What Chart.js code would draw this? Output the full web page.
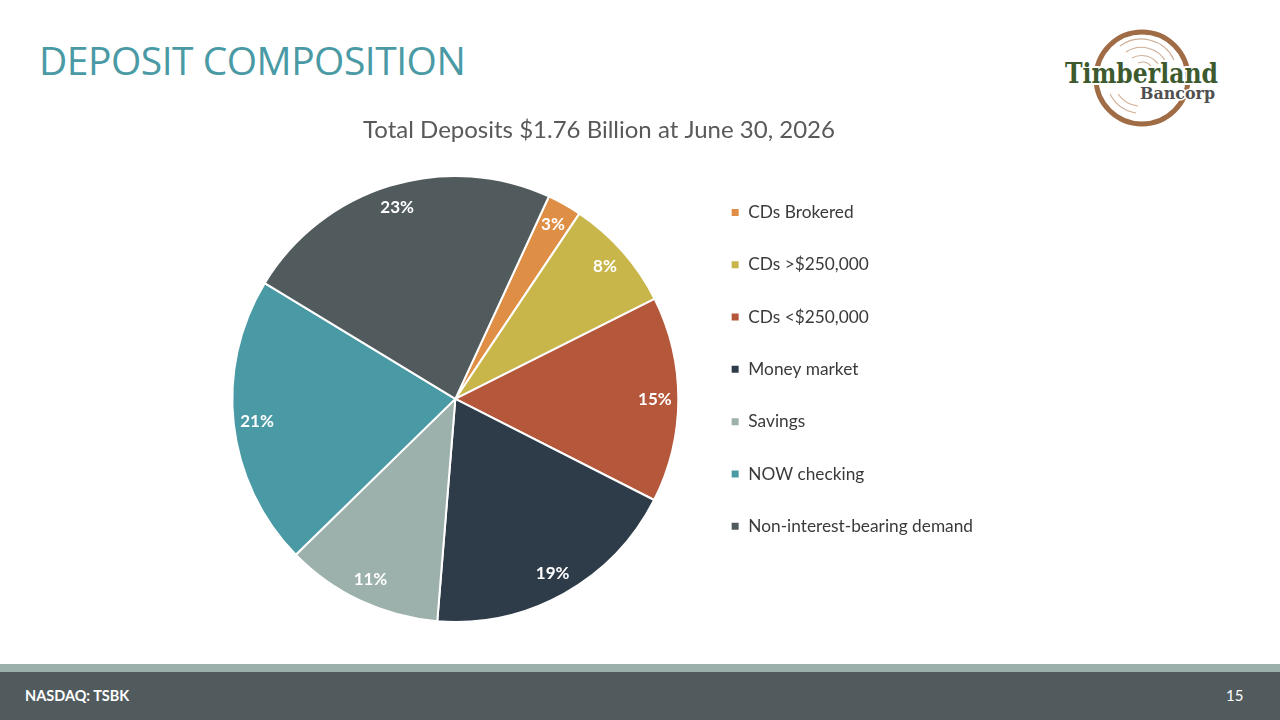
<!DOCTYPE html>
<html>
<head>
<meta charset="utf-8">
<script src="https://cdn.jsdelivr.net/npm/chart.js@4.4.1/dist/chart.umd.min.js"></script>
<style>
  html, body { margin: 0; padding: 0; background: #fff; }
  body { width: 1280px; height: 720px; position: relative; overflow: hidden; font-family: Lato, "Open Sans", sans-serif; }
  #heading { position: absolute; left: 39px; top: 33px; font-size: 39px; color: #4A9AA5; font-family: "Open Sans", Lato, sans-serif; letter-spacing: -0.5px; white-space: nowrap; }
  #chartBox { position: absolute; left: 215px; top: 110px; }
  #band1 { position: absolute; left: 0; top: 664px; width: 1280px; height: 8px; background: #9BB0AA; }
  #band2 { position: absolute; left: 0; top: 672px; width: 1280px; height: 48px; background: #515B5E; }
  #ticker { position: absolute; left: 25px; top: 687px; color: #fff; font-weight: bold; font-size: 14.5px; font-family: Lato, sans-serif; }
  #pageNo { position: absolute; left: 1226px; top: 686px; color: #fff; font-size: 15px; font-family: Lato, sans-serif; }
  #logo { position: absolute; left: 1040px; top: 20px; }
</style>
</head>
<body>
<div id="heading">DEPOSIT COMPOSITION</div>
<svg id="logo" width="200" height="115" viewBox="0 0 200 115">
  <circle cx="102" cy="58" r="46" fill="none" stroke="#A06C46" stroke-width="5"/>
  <g fill="none" stroke="#B98C6A" stroke-width="1.1" opacity="0.7">
    <path d="M 80 26 A 36 36 0 0 1 134 40"/>
    <path d="M 86 32 A 28 28 0 0 1 126 42"/>
    <path d="M 92 38 A 20 20 0 0 1 118 44"/>
    <path d="M 98 43 A 12 12 0 0 1 111 46"/>
    <path d="M 70 74 A 36 36 0 0 0 96 93"/>
    <path d="M 78 74 A 28 28 0 0 0 98 86"/>
  </g>
  <text x="25" y="63" font-family="DejaVu Serif, serif" font-weight="bold" font-size="28" fill="#3D5A2E" stroke="#fff" stroke-width="4" paint-order="stroke" stroke-linejoin="round" textLength="153" lengthAdjust="spacingAndGlyphs">Timberland</text>
  <text x="100" y="79" font-family="DejaVu Serif, serif" font-weight="bold" font-size="16" fill="#505050" stroke="#fff" stroke-width="3" paint-order="stroke" stroke-linejoin="round" textLength="75" lengthAdjust="spacingAndGlyphs">Bancorp</text>
</svg>
<div id="chartBox"><canvas id="c"></canvas></div>
<div id="band1"></div>
<div id="band2"></div>
<div id="ticker">NASDAQ: TSBK</div>
<div id="pageNo">15</div>
<script>
const categories = ["CDs Brokered", "CDs >$250,000", "CDs <$250,000", "Money market", "Savings", "NOW checking", "Non-interest-bearing demand"];
const shares = [2.5, 8.2, 14.9, 18.8, 11.4, 21.0, 23.2];
const sliceColors = ["#DF8E45", "#C9B64B", "#B5573A", "#2E3B48", "#9CB1AB", "#4A9AA6", "#515B5E"];
const chartTitle = "Total Deposits $1.76 Billion at June 30, 2026";

const legendFont = { family: "Lato", size: 17.3 };
const legendPad = 35;
const boxW = 9;

// measure legend width so that the pie lands where it should
const mctx = document.createElement('canvas').getContext('2d');
mctx.font = legendFont.size + 'px ' + legendFont.family;
let maxItem = 0;
categories.forEach(t => { maxItem = Math.max(maxItem, boxW + legendFont.size / 2 + mctx.measureText(t).width); });
const legendW = legendPad + maxItem + 10;
const areaW = 480;
const totalW = Math.ceil(areaW + legendW);
const totalH = 519;

const cv = document.getElementById('c');
const box = document.getElementById('chartBox');
box.style.width = totalW + 'px';
box.style.height = totalH + 'px';

const sliceLabels = {
  id: 'sliceLabels',
  afterDatasetsDraw(chart) {
    const ctx = chart.ctx;
    const meta = chart.getDatasetMeta(0);
    const data = chart.data.datasets[0].data;
    ctx.save();
    ctx.fillStyle = '#ffffff';
    ctx.font = 'bold 17px Lato';
    ctx.textAlign = 'center';
    ctx.textBaseline = 'middle';
    meta.data.forEach((arc, i) => {
      const p = arc.getProps(['x', 'y', 'startAngle', 'endAngle', 'outerRadius']);
      const mid = (p.startAngle + p.endAngle) / 2;
      const r = p.outerRadius * 0.895;
      ctx.fillText(Math.round(data[i]) + '%', p.x + Math.cos(mid) * r, p.y + Math.sin(mid) * r);
    });
    ctx.restore();
  }
};

new Chart(cv, {
  type: 'pie',
  data: {
    labels: categories,
    datasets: [{
      data: shares,
      backgroundColor: sliceColors,
      borderColor: '#ffffff',
      borderWidth: 2,
      radius: 223
    }]
  },
  options: {
    responsive: true,
    maintainAspectRatio: false,
    animation: false,
    rotation: 24.8,
    layout: { padding: 0 },
    plugins: {
      title: {
        display: true,
        text: chartTitle,
        color: '#595959',
        font: { family: 'Lato', size: 24, weight: 'normal' },
        padding: { top: 6, bottom: 24 }
      },
      legend: {
        position: 'right',
        align: 'start',
        fullSize: false,
        labels: {
          color: '#3A3A3A',
          font: legendFont,
          boxWidth: boxW,
          boxHeight: boxW,
          padding: legendPad
        }
      },
      tooltip: { enabled: false }
    }
  },
  plugins: [sliceLabels]
});
</script>
</body>
</html>
